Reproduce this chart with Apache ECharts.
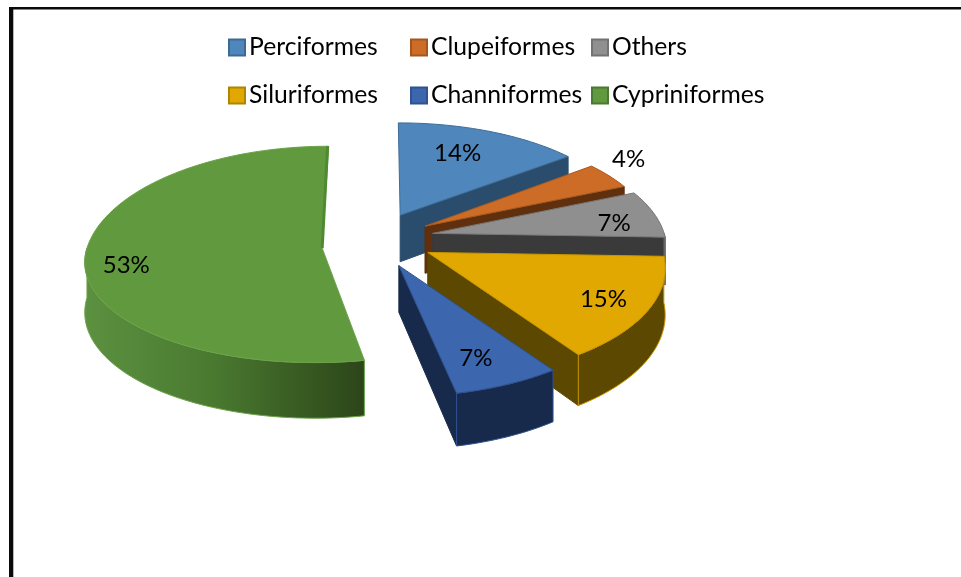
<!DOCTYPE html>
<html>
<head>
<meta charset="utf-8">
<style>html,body{margin:0;padding:0;background:#fff}#c{width:961px;height:577px}</style>
<script src="https://cdn.jsdelivr.net/npm/echarts@6/dist/echarts.min.js"></script>
</head>
<body>
<div id="c"></div>
<script>
// Data
var categories = ['Perciformes', 'Clupeiformes', 'Others', 'Siluriformes', 'Channiformes', 'Cypriniformes'];
var percentages = [14, 4, 7, 15, 7, 53];

// Style
var topColors = ['#4f86bb', '#cc6c26', '#8f8f8f', '#e0a800', '#3c66ad', '#60993e'];
var wallColors = ['#2a4d6e', '#5f2f0e', '#3a3a3a', '#5c4800', '#182a4b', '#3f6a28'];
var edgeColors = ['#3f6d98', '#a85a20', '#777777', '#c89600', '#2f5290', '#6ca34a'];
var legendEdges = ['#3d6a94', '#a5561d', '#727272', '#ad8500', '#2f5290', '#4a7a30'];

// Exploded pie layout, per slice
var explodeDist = [68, 60, 57, 48, 46, 60];
var explodeDir = [16, 47, 64, 109, 159, 263.6];
var radiusScale = [0.99, 0.98, 0.985, 0.98, 0.985, 0.985];
var nearScale = [1, 1, 1, 1, 1, 0.92];
var farScale = [0.99, 1, 1, 1, 1, 1.03];
var depthScale = [1, 1, 1, 0.95, 0.95, 1.03];
var startShift = [0, 2, 2, 2, 1, 0];
var endShift = [2, 2, 2, 2, -1, 0];
var labelRadius = [0.70, 1.19, 0.80, 0.81, 0.79, 0.83];
var labelTurn = [-2, -2.6, 6, 2.8, 2.1, -6];

var pie = { cx: 382, cy: 245, radius: 238, tilt: 0.47, persp: 0.0005, depth: 48 };

var total = percentages.reduce(function (a, b) { return a + b; }, 0);
var startFrac = [];
percentages.reduce(function (acc, v, i) { startFrac[i] = acc / total; return acc + v; }, 0);

function project(x, y, z) {
  var s = 1 / (1 - pie.persp * y);
  return [pie.cx + x * s, pie.cy + pie.tilt * y * s + z * s];
}
function rad(d) { return d * Math.PI / 180; }
function apexOf(i) {
  var a = rad(explodeDir[i]);
  return [Math.sin(a) * explodeDist[i], -Math.cos(a) * explodeDist[i]];
}
function rimPoint(i, deg, r, z) {
  var o = apexOf(i), a = rad(deg);
  var rr = r * radiusScale[i];
  var dy = -Math.cos(a) * rr;
  dy *= dy > 0 ? nearScale[i] : farScale[i];
  return project(o[0] + Math.sin(a) * rr, o[1] + dy, z);
}
function arcPoints(i, a1, a2, z) {
  var out = [], n = Math.max(2, Math.ceil((a2 - a1) / 1.5));
  for (var k = 0; k <= n; k++) out.push(rimPoint(i, a1 + (a2 - a1) * k / n, pie.radius, z));
  return out;
}
function poly(points, fill, stroke, w) {
  return { type: 'polygon', shape: { points: points }, style: { fill: fill, stroke: stroke, lineWidth: w || 1 } };
}

function renderSlice(i) {
  return function (params, api) {
    var v = api.value(0);
    var base1 = startFrac[i] * 360, base2 = base1 + v / total * 360;
    var a1 = base1 + startShift[i], a2 = base2 + endShift[i];
    var depth = pie.depth * depthScale[i];
    var apex = project(apexOf(i)[0], apexOf(i)[1], 0);
    var apexLow = project(apexOf(i)[0], apexOf(i)[1], depth);
    var kids = [];

    // End cut wall (faces the viewer for slices ending on the right half)
    if (a2 < 360) {
      var e0 = rimPoint(i, a2, pie.radius, 0), e1 = rimPoint(i, a2, pie.radius, depth);
      kids.push(poly([apex, e0, e1, apexLow], wallColors[i], wallColors[i]));
    }
    // Outer rim wall on the front half
    var r1 = Math.max(a1, 90), r2 = Math.min(a2, 270);
    if (r2 > r1) {
      var top = arcPoints(i, r1, r2, 0), low = arcPoints(i, r1, r2, depth).reverse();
      var fill = wallColors[i];
      if (i === 5) {
        fill = new echarts.graphic.LinearGradient(0, 0, 1, 0, [
          { offset: 0, color: '#5c9140' }, { offset: 0.45, color: '#4a7a30' }, { offset: 1, color: '#2c4519' }
        ]);
      }
      kids.push(poly(top.concat(low), fill, edgeColors[i]));
    }
    // Top face
    var face = [apex].concat(arcPoints(i, a1, a2, 0));
    kids.push(poly(face, topColors[i], edgeColors[i]));
    // Sliver of the closing cut seen on the large slice
    if (a2 >= 360) {
      var far = rimPoint(i, 360, pie.radius, 0);
      kids.push({ type: 'polyline', shape: { points: [[far[0] - 1, far[1]], [apex[0], apex[1]]] },
        style: { stroke: '#4f8a33', lineWidth: 3, fill: null } });
    }
    // Percentage label
    var mid = (base1 + base2) / 2 + labelTurn[i];
    var lp = rimPoint(i, mid, pie.radius * labelRadius[i], 0);
    kids.push({ type: 'text', z2: 50, style: {
      x: lp[0], y: lp[1], text: v + '%', fill: '#000', align: 'center', verticalAlign: 'middle',
      font: '24px Lato' } });
    return { type: 'group', children: kids };
  };
}

var series = categories.map(function (name, i) {
  return {
    type: 'custom', name: name, coordinateSystem: 'none', silent: true, animation: false,
    z: 2 + i, itemStyle: { color: topColors[i] },
    renderItem: renderSlice(i), data: [[percentages[i]]]
  };
});

function legendColumn(left, a, b) {
  var mk = function (i) {
    return { name: categories[i], itemStyle: { color: topColors[i], borderColor: legendEdges[i], borderWidth: 2 } };
  };
  return {
    left: left, top: 35, orient: 'vertical', icon: 'rect', itemWidth: 16, itemHeight: 16, itemGap: 23,
    padding: 0, selectedMode: false, textStyle: { fontFamily: 'Lato', fontSize: 24.7, color: '#000', padding: [0, 0, 0, -1] },
    data: [mk(a), mk(b)]
  };
}

var chart = echarts.init(document.getElementById('c'));
chart.setOption({
  animation: false,
  backgroundColor: '#fff',
  legend: [legendColumn(228, 0, 3), legendColumn(410, 1, 4), legendColumn(591, 2, 5)],
  graphic: [
    { type: 'rect', shape: { x: 9, y: 7, width: 952, height: 2.5 }, style: { fill: '#0a0a0a' }, silent: true },
    { type: 'rect', shape: { x: 9, y: 7, width: 4.3, height: 570 }, style: { fill: '#0a0a0a' }, silent: true }
  ],
  series: series
});
</script>
</body>
</html>
